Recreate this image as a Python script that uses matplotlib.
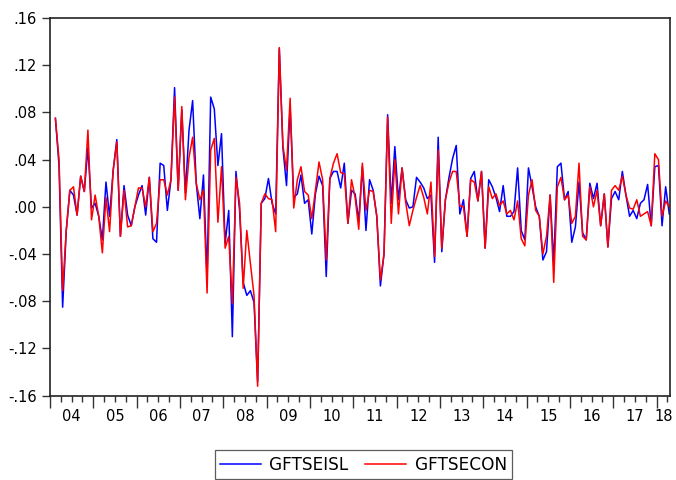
import matplotlib
matplotlib.use("Agg")
import matplotlib.pyplot as plt
import numpy as np
from matplotlib.ticker import FixedLocator, NullFormatter

plt.rcParams['font.family'] = ['DejaVu Sans']

# Monthly observations, 2004M02 .. 2018M04 (month index 1 = Feb 2004)
gftseisl = [
    0.075, 0.035, -0.085, -0.020, 0.014, 0.010, -0.007, 0.026, 0.013, 0.050,
    -0.001, 0.003, -0.008, -0.028, 0.021, -0.008, 0.031, 0.057, -0.025, 0.018,
    -0.007, -0.016, 0.000, 0.010, 0.018, -0.007, 0.025, -0.027, -0.030, 0.037,
    0.035, -0.003, 0.023, 0.101, 0.014, 0.082, 0.012, 0.065, 0.090, 0.020,
    -0.010, 0.027, -0.060, 0.093, 0.083, 0.035, 0.062, -0.031, -0.003, -0.110,
    0.030, -0.003, -0.064, -0.075, -0.071, -0.081, -0.148, 0.003, 0.007, 0.024,
    0.003, -0.006, 0.134, 0.050, 0.018, 0.085, 0.008, 0.011, 0.027, 0.003,
    0.006, -0.023, 0.011, 0.026, 0.018, -0.059, 0.024, 0.030, 0.030, 0.016,
    0.037, -0.014, 0.014, 0.011, -0.012, 0.034, -0.020, 0.023, 0.014, -0.008,
    -0.067, -0.040, 0.078, 0.003, 0.051, 0.006, 0.033, 0.006, -0.001, 0.000,
    0.025, 0.021, 0.016, 0.007, 0.010, -0.047, 0.059, -0.038, 0.006, 0.025,
    0.041, 0.052, -0.006, 0.006, -0.025, 0.024, 0.030, 0.005, 0.030, -0.035,
    0.023, 0.017, 0.008, -0.004, 0.018, -0.008, -0.008, -0.004, 0.033, -0.020,
    -0.028, 0.033, 0.017, 0.000, -0.008, -0.045, -0.038, 0.010, -0.048, 0.034,
    0.037, 0.006, 0.013, -0.030, -0.017, 0.021, -0.022, -0.028, 0.020, 0.007,
    0.020, -0.016, 0.011, -0.034, 0.007, 0.013, 0.006, 0.030, 0.010, -0.008,
    -0.003, -0.010, 0.003, 0.006, 0.019, -0.016, 0.034, 0.035, -0.016, 0.017,
    -0.006,
]
gftsecon = [
    0.075, 0.040, -0.071, -0.020, 0.014, 0.017, -0.007, 0.026, 0.013, 0.065,
    -0.011, 0.010, -0.008, -0.039, 0.008, -0.021, 0.031, 0.055, -0.025, 0.014,
    -0.017, -0.016, 0.000, 0.016, 0.016, 0.000, 0.025, -0.021, -0.014, 0.023,
    0.023, 0.010, 0.023, 0.093, 0.014, 0.085, 0.006, 0.042, 0.059, 0.020,
    0.006, 0.014, -0.073, 0.048, 0.058, -0.013, 0.034, -0.035, -0.025, -0.082,
    0.025, 0.003, -0.069, -0.020, -0.048, -0.075, -0.152, 0.003, 0.011, 0.007,
    0.006, -0.021, 0.135, 0.052, 0.031, 0.092, -0.001, 0.023, 0.034, 0.013,
    0.010, -0.010, 0.014, 0.038, 0.023, -0.045, 0.024, 0.037, 0.045, 0.029,
    0.028, -0.014, 0.023, 0.008, -0.019, 0.037, -0.003, 0.014, 0.013, -0.008,
    -0.062, -0.040, 0.076, -0.014, 0.040, -0.006, 0.033, 0.004, -0.016, -0.003,
    0.008, 0.018, 0.008, -0.006, 0.021, -0.042, 0.048, -0.035, 0.006, 0.021,
    0.030, 0.030, 0.001, 0.000, -0.025, 0.023, 0.021, 0.005, 0.030, -0.035,
    0.017, 0.007, 0.011, 0.001, 0.005, -0.006, -0.003, -0.011, 0.005, -0.027,
    -0.033, 0.010, 0.023, -0.003, -0.008, -0.040, -0.025, 0.010, -0.064, 0.017,
    0.025, 0.006, 0.010, -0.014, -0.008, 0.037, -0.025, -0.028, 0.017, 0.000,
    0.014, -0.016, 0.011, -0.034, 0.014, 0.018, 0.014, 0.026, 0.010, -0.001,
    -0.002, 0.006, -0.008, -0.006, -0.004, -0.016, 0.045, 0.040, -0.008, 0.005,
    0.000,
]
year_labels = ["04", "05", "06", "07", "08", "09", "10", "11", "12",
               "13", "14", "15", "16", "17", "18"]
ytick_vals = [0.16, 0.12, 0.08, 0.04, 0.00, -0.04, -0.08, -0.12, -0.16]
ytick_labels = [".16", ".12", ".08", ".04", ".00", "-.04", "-.08", "-.12", "-.16"]

n = len(gftseisl)
x = np.arange(1, n + 1) + 0.5
x_right = n + 0.7

fig = plt.figure(figsize=(6.76, 4.8), dpi=100)
ax = fig.add_axes([50 / 676, 1 - 395.7 / 480, 620 / 676, (395.7 - 18) / 480])

ax.plot(x, gftseisl, color=(0, 0, 1), lw=1.1, label="GFTSEISL")
ax.plot(x, gftsecon, color=(1, 0, 0), lw=1.1, label="GFTSECON")

ax.set_xlim(0, x_right)
ax.set_ylim(-0.16, 0.16)
ax.set_yticks(ytick_vals)
ax.set_yticklabels(ytick_labels)

ax.xaxis.set_major_locator(FixedLocator(np.arange(0, x_right, 12)))
ax.xaxis.set_minor_locator(FixedLocator(np.arange(0, x_right, 3)))
ax.xaxis.set_major_formatter(NullFormatter())
ax.tick_params(axis='x', which='major', length=8.5, width=1.0, direction='out', color='#333333')
ax.tick_params(axis='x', which='minor', length=4, width=1.0, direction='out', color='#333333')
ax.tick_params(axis='y', which='major', length=5.5, width=1.0, direction='out',
               labelsize=10.5, pad=4, color='#333333')

for k, lbl in enumerate(year_labels):
    start = 12 * k
    end = min(12 * (k + 1), x_right)
    ax.annotate(lbl, xy=((start + end) / 2, 0), xycoords=('data', 'axes fraction'),
                xytext=(0, -21), textcoords='offset pixels', ha='center', va='center',
                fontsize=10.5, color='black')

for s in ax.spines.values():
    s.set_color('#222222')
    s.set_linewidth(1.2)

leg = fig.legend(loc='center', bbox_to_anchor=(363.5 / 676, 1 - 464.5 / 480), ncol=2,
                 fancybox=False, frameon=True, edgecolor='#333333', fontsize=12.2,
                 handlelength=2.4, handletextpad=0.5, columnspacing=1.0,
                 borderpad=0.3)
leg.get_frame().set_linewidth(0.9)

fig.savefig("out.png", dpi=100)
